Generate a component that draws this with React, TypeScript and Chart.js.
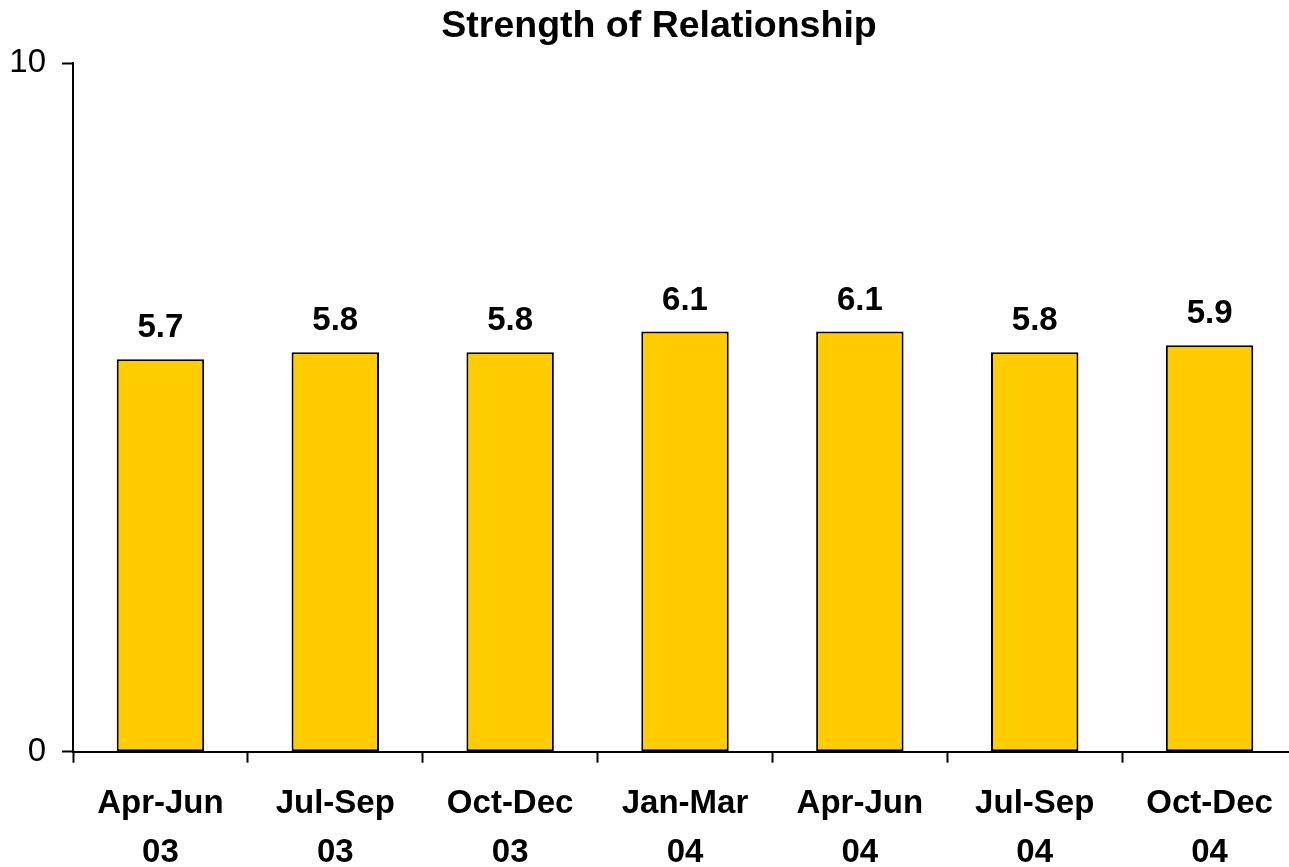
import React, { useEffect, useRef } from "react";
import { Chart, registerables } from "chart.js";

Chart.register(...registerables);

const TITLE = "Strength of Relationship";
const CATEGORIES: string[][] = [
  ["Apr-Jun", "03"],
  ["Jul-Sep", "03"],
  ["Oct-Dec", "03"],
  ["Jan-Mar", "04"],
  ["Apr-Jun", "04"],
  ["Jul-Sep", "04"],
  ["Oct-Dec", "04"],
];
const VALUES: number[] = [5.7, 5.8, 5.8, 6.1, 6.1, 5.8, 5.9];
const Y_MIN = 0;
const Y_MAX = 10;
const Y_STEP = 10;

const FONT = "'Liberation Sans', Arial, sans-serif";

export default function App() {
  const ref = useRef<HTMLCanvasElement | null>(null);

  useEffect(() => {
    if (!ref.current) return;

    const titlePlugin = {
      id: "customTitle",
      afterDraw(chart: any) {
        const ctx = chart.ctx;
        ctx.save();
        ctx.font = `bold 37.5px ${FONT}`;
        ctx.fillStyle = "#000";
        ctx.textAlign = "center";
        ctx.textBaseline = "alphabetic";
        ctx.fillText(TITLE, 659, 37);
        ctx.restore();
      },
    };

    const valueLabels = {
      id: "valueLabels",
      afterDatasetsDraw(chart: any) {
        const ctx = chart.ctx;
        const meta = chart.getDatasetMeta(0);
        ctx.save();
        ctx.font = `bold 33px ${FONT}`;
        ctx.fillStyle = "#000";
        ctx.textAlign = "center";
        ctx.textBaseline = "alphabetic";
        meta.data.forEach((bar: any, i: number) => {
          ctx.fillText(VALUES[i].toFixed(1), bar.x, bar.y - 22);
        });
        ctx.restore();
      },
    };

    const chart = new Chart(ref.current, {
      type: "bar",
      data: {
        labels: CATEGORIES,
        datasets: [
          {
            data: VALUES,
            backgroundColor: "#FFCC00",
            borderColor: "#000000",
            borderWidth: 2,
            borderSkipped: false,
            categoryPercentage: 1,
            barPercentage: 0.5,
          },
        ],
      },
      options: {
        animation: false,
        responsive: false,
        maintainAspectRatio: false,
        layout: { padding: { top: 63, left: 0, right: 0, bottom: 0 } },
        plugins: {
          legend: { display: false },
          title: { display: false },
          tooltip: { enabled: false },
        },
        scales: {
          x: {
            offset: true,
            grid: {
              offset: true,
              drawOnChartArea: false,
              drawTicks: true,
              tickLength: 11,
              tickWidth: 2,
              tickColor: "#000",
            },
            border: { display: true, color: "#000", width: 2 },
            ticks: {
              color: "#000",
              font: { family: FONT, size: 33, weight: "bold", lineHeight: 1.5 },
              padding: 16,
              maxRotation: 0,
              autoSkip: false,
            },
            afterFit(scale: any) {
              scale.height = 115.3;
            },
          },
          y: {
            min: Y_MIN,
            max: Y_MAX,
            grid: {
              drawOnChartArea: false,
              drawTicks: true,
              tickLength: 11,
              tickWidth: 2,
              tickColor: "#000",
            },
            border: { display: true, color: "#000", width: 2 },
            ticks: {
              stepSize: Y_STEP,
              color: "#000",
              font: { family: FONT, size: 33 },
              padding: 16,
            },
            afterFit(scale: any) {
              scale.width = 73;
            },
          },
        },
      },
      plugins: [titlePlugin, valueLabels],
    });

    return () => chart.destroy();
  }, []);

  return (
    <div
      style={{
        position: "fixed",
        left: 0,
        top: 0,
        width: 1289,
        height: 867,
        overflow: "hidden",
        background: "#fff",
      }}
    >
      <canvas ref={ref} width={1297} height={867} style={{ width: 1297, height: 867, display: "block" }} />
    </div>
  );
}
